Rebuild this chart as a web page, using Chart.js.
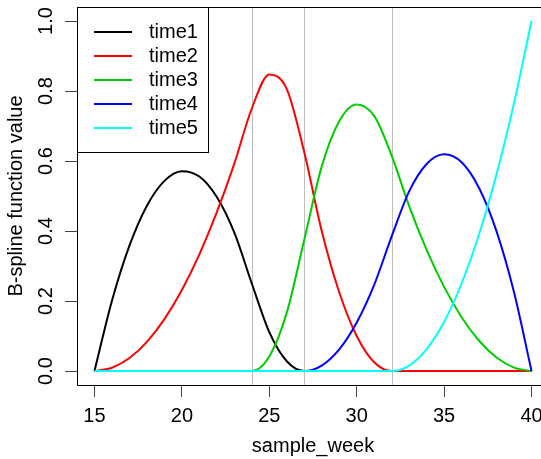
<!DOCTYPE html>
<html>
<head>
<meta charset="utf-8">
<script src="https://cdn.jsdelivr.net/npm/chart.js@4/dist/chart.umd.min.js"></script>
<style>
  html, body { margin: 0; padding: 0; background: #fff; overflow: hidden; }
  #wrap { width: 560px; height: 459px; }
</style>
</head>
<body>
<div id="wrap"><canvas id="splineChart" width="560" height="459"></canvas></div>
<script>
/* =========================
   DATA
========================= */
const weeks = [15, 16, 17, 18, 19, 20, 21, 22, 23, 24, 25, 26, 27, 28, 29, 30, 31, 32, 33, 34, 35, 36, 37, 38, 39, 40];

const time1 = [0, 0.2006, 0.3580, 0.4722, 0.5432, 0.5710, 0.5556, 0.4969, 0.3951, 0.2500, 0.1111, 0.0278, 0, 0, 0, 0, 0, 0, 0, 0, 0, 0, 0, 0, 0, 0];
const time2 = [0, 0.0093, 0.0370, 0.0833, 0.1481, 0.2315, 0.3333, 0.4537, 0.5926, 0.7500, 0.8472, 0.8056, 0.6250, 0.4000, 0.2250, 0.1000, 0.0250, 0, 0, 0, 0, 0, 0, 0, 0, 0];
const time3 = [0, 0, 0, 0, 0, 0, 0, 0, 0, 0, 0.0417, 0.1667, 0.3750, 0.5846, 0.7135, 0.7615, 0.7288, 0.6154, 0.4712, 0.3462, 0.2404, 0.1538, 0.0865, 0.0385, 0.0096, 0];
const time4 = [0, 0, 0, 0, 0, 0, 0, 0, 0, 0, 0, 0, 0, 0.0154, 0.0615, 0.1385, 0.2462, 0.3846, 0.5132, 0.5913, 0.6190, 0.5962, 0.5228, 0.3990, 0.2248, 0];
const time5 = [0, 0, 0, 0, 0, 0, 0, 0, 0, 0, 0, 0, 0, 0, 0, 0, 0, 0, 0.0156, 0.0625, 0.1406, 0.2500, 0.3906, 0.5625, 0.7656, 1.0000];

const seriesNames = ["time1", "time2", "time3", "time4", "time5"];
const seriesValues = [time1, time2, time3, time4, time5];
const seriesColors = ["#000000", "#FF0000", "#00CD00", "#0000FF", "#00FFFF"];

const knots = [24, 27, 32];
const xTicks = [15, 20, 25, 30, 35, 40];
const yTicks = [0, 0.2, 0.4, 0.6, 0.8, 1.0];
const yTickLabels = ["0.0", "0.2", "0.4", "0.6", "0.8", "1.0"];

const FONT = "'Liberation Sans', Arial, Helvetica, sans-serif";

/* =========================
   PLUGINS
========================= */

// grey vertical lines at the interior knots
const knotLines = {
    id: "knotLines",
    beforeDatasetsDraw(chart) {
        const { ctx, chartArea, scales } = chart;
        ctx.save();
        ctx.strokeStyle = "#BEBEBE";
        ctx.lineWidth = 1;
        knots.forEach(k => {
            const px = Math.round(scales.x.getPixelForValue(k)) + 0.5;
            ctx.beginPath();
            ctx.moveTo(px, chartArea.top);
            ctx.lineTo(px, chartArea.bottom);
            ctx.stroke();
        });
        ctx.restore();
    }
};

// box, rotated y labels and boxed legend (R style)
const rStyle = {
    id: "rStyle",
    afterDraw(chart) {
        const { ctx, chartArea, scales } = chart;
        ctx.save();

        // plot box (right side falls outside the window anyway)
        const L = chartArea.left + 0.5, T = chartArea.top + 0.5, B = chartArea.bottom + 0.5;
        ctx.strokeStyle = "#000";
        ctx.lineWidth = 1;
        ctx.beginPath();
        ctx.moveTo(chartArea.right + 5, T);
        ctx.lineTo(L, T);
        ctx.lineTo(L, B);
        ctx.lineTo(chartArea.right + 5, B);
        ctx.stroke();

        // y tick labels, rotated
        ctx.fillStyle = "#000";
        ctx.font = "20px " + FONT;
        ctx.textAlign = "center";
        ctx.textBaseline = "middle";
        yTicks.forEach((v, i) => {
            const py = scales.y.getPixelForValue(v);
            ctx.save();
            ctx.translate(chartArea.left - 31, py);
            ctx.rotate(-Math.PI / 2);
            ctx.fillText(yTickLabels[i], 0, 0);
            ctx.restore();
        });

        // legend
        const lx = chartArea.left;
        const ly = chartArea.top;
        const rowH = 24;
        const textX = lx + 72;
        let maxW = 0;
        seriesNames.forEach(n => { maxW = Math.max(maxW, ctx.measureText(n).width); });
        const boxW = Math.round(textX + maxW + 10 - lx);
        const boxH = 145;

        ctx.fillStyle = "#fff";
        ctx.fillRect(lx + 0.5, ly + 0.5, boxW, boxH);
        ctx.strokeStyle = "#000";
        ctx.strokeRect(lx + 0.5, ly + 0.5, boxW, boxH);

        ctx.textAlign = "left";
        seriesNames.forEach((n, i) => {
            const cy = ly + 25 + i * rowH;
            ctx.strokeStyle = seriesColors[i];
            ctx.lineWidth = 2;
            ctx.beginPath();
            ctx.moveTo(lx + 17, cy);
            ctx.lineTo(lx + 55, cy);
            ctx.stroke();
            ctx.fillStyle = "#000";
            ctx.fillText(n, textX, cy);
        });

        ctx.restore();
    }
};

/* =========================
   CHART
========================= */

Chart.defaults.font.family = FONT;
Chart.defaults.color = "#000";

const datasets = seriesNames.map((name, i) => ({
    label: name,
    data: weeks.map((w, j) => ({ x: w, y: seriesValues[i][j] })),
    borderColor: seriesColors[i],
    backgroundColor: seriesColors[i],
    borderWidth: 2,
    pointRadius: 0,
    fill: false,
    cubicInterpolationMode: "monotone",
    order: seriesNames.length - i
}));

new Chart(document.getElementById("splineChart"), {
    type: "line",
    data: { datasets },
    options: {
        responsive: false,
        animation: false,
        devicePixelRatio: 1,
        layout: { padding: { left: 0, right: 11, top: 7, bottom: 0 } },
        plugins: {
            legend: { display: false },
            tooltip: { enabled: false }
        },
        scales: {
            x: {
                type: "linear",
                min: 14,
                max: 41,
                afterBuildTicks: (scale) => { scale.ticks = xTicks.map(v => ({ value: v })); },
                afterFit: (scale) => { scale.height = 74; },
                border: { display: false },
                grid: { drawOnChartArea: false, drawTicks: true, tickLength: 12, tickColor: "#444" },
                ticks: { font: { size: 20 }, color: "#000", padding: 7, maxRotation: 0 },
                title: {
                    display: true,
                    text: "sample_week",
                    font: { size: 20 },
                    color: "#000",
                    padding: { top: 0, bottom: 1 }
                }
            },
            y: {
                type: "linear",
                min: -0.04,
                max: 1.04,
                afterBuildTicks: (scale) => { scale.ticks = yTicks.map(v => ({ value: v })); },
                afterFit: (scale) => { scale.width = 77; },
                border: { display: false },
                grid: { drawOnChartArea: false, drawTicks: true, tickLength: 12, tickColor: "#444" },
                ticks: { display: false },
                title: {
                    display: true,
                    text: "B-spline function value",
                    font: { size: 20 },
                    color: "#000",
                    padding: { top: 4, bottom: 0 }
                }
            }
        }
    },
    plugins: [knotLines, rStyle]
});
</script>
</body>
</html>
